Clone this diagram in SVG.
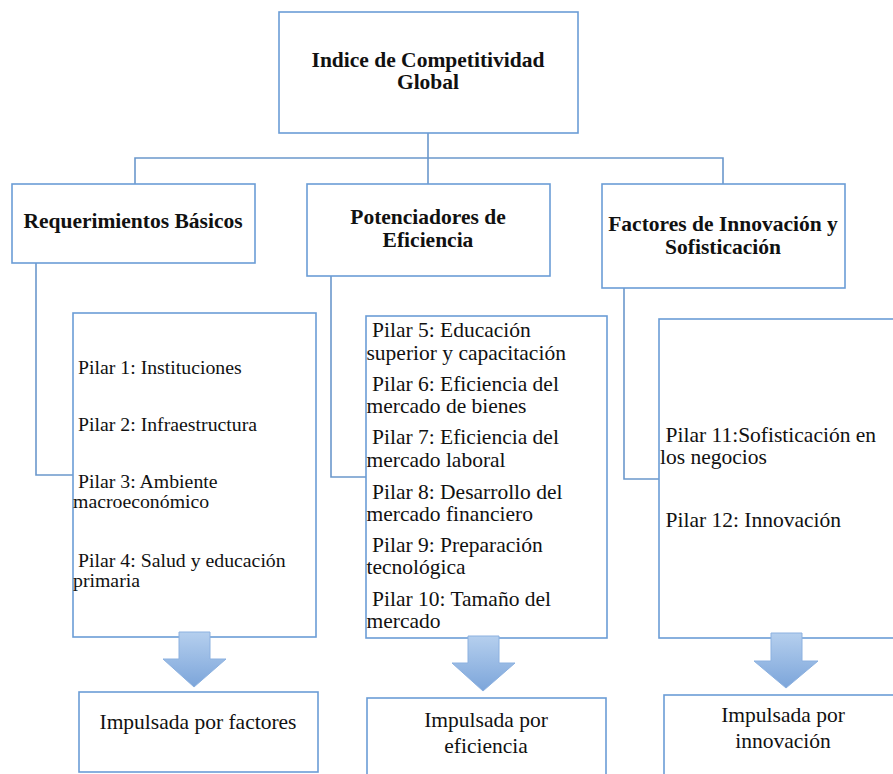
<svg xmlns="http://www.w3.org/2000/svg" width="893" height="774" viewBox="0 0 893 774">
<style>
.box{fill:#fff;stroke:#6b9dd6;stroke-width:1.6}
.con{fill:none;stroke:#6b98cc;stroke-width:1.6}
.b{font-family:"Liberation Serif",serif;font-weight:bold;font-size:21.5px;fill:#111;text-anchor:middle}
.t{font-family:"Liberation Serif",serif;font-size:21.5px;fill:#111}
.s{font-family:"Liberation Serif",serif;font-size:19.8px;fill:#111}
.c{text-anchor:middle}
.arr{fill:url(#ag);stroke:#8cb1e0;stroke-width:1}
</style>
<defs>
<linearGradient id="ag" x1="0" y1="0" x2="0" y2="1">
<stop offset="0" stop-color="#b5cfee"/>
<stop offset="1" stop-color="#7ca5da"/>
</linearGradient>
</defs>
<rect width="893" height="774" fill="#fff"/>
<g id="connectors">
<path class="con" d="M428,133 V184 M135,184 V158 H723 V184"/>
<path class="con" d="M36,263 V475 H73"/>
<path class="con" d="M331,276 V477 H366"/>
<path class="con" d="M624,288 V479 H659"/>
</g>
<g id="top">
<rect class="box" x="279" y="12" width="299" height="121"/>
<text class="b" x="428" y="67">Indice de Competitividad</text>
<text class="b" x="428" y="89">Global</text>
</g>
<g id="req">
<rect class="box" x="12" y="184" width="243" height="79"/>
<text class="b" x="133" y="228">Requerimientos Básicos</text>
</g>
<g id="pot">
<rect class="box" x="307" y="184" width="243" height="92"/>
<text class="b" x="428" y="224">Potenciadores de</text>
<text class="b" x="428" y="247">Eficiencia</text>
</g>
<g id="fac">
<rect class="box" x="602" y="184" width="243" height="104"/>
<text class="b" x="723" y="231">Factores de Innovación y</text>
<text class="b" x="723" y="254">Sofisticación</text>
</g>
<g id="pilares1">
<rect class="box" x="73" y="313" width="243" height="324"/>
<text class="s" x="78" y="374">Pilar 1: Instituciones</text>
<text class="s" x="78" y="431">Pilar 2: Infraestructura</text>
<text class="s" x="78" y="488">Pilar 3: Ambiente</text>
<text class="s" x="73" y="508">macroeconómico</text>
<text class="s" x="78" y="567">Pilar 4: Salud y educación</text>
<text class="s" x="73" y="587">primaria</text>
</g>
<g id="pilares2">
<rect class="box" x="366" y="316" width="241" height="322"/>
<text class="t" x="372" y="337">Pilar 5: Educación</text>
<text class="t" x="366.5" y="360">superior y capacitación</text>
<text class="t" x="372" y="391">Pilar 6: Eficiencia del</text>
<text class="t" x="366.5" y="413">mercado de bienes</text>
<text class="t" x="372" y="444">Pilar 7: Eficiencia del</text>
<text class="t" x="366.5" y="467">mercado laboral</text>
<text class="t" x="372" y="498.5">Pilar 8: Desarrollo del</text>
<text class="t" x="366.5" y="521">mercado financiero</text>
<text class="t" x="372" y="552">Pilar 9: Preparación</text>
<text class="t" x="366.5" y="574">tecnológica</text>
<text class="t" x="372" y="606">Pilar 10: Tamaño del</text>
<text class="t" x="366.5" y="628">mercado</text>
</g>
<g id="pilares3">
<rect class="box" x="659" y="319" width="250" height="319"/>
<text class="t" x="665.5" y="442">Pilar 11:Sofisticación en</text>
<text class="t" x="660" y="464">los negocios</text>
<text class="t" x="665.5" y="527">Pilar 12: Innovación</text>
</g>
<g id="arrows">
<polygon class="arr" points="179,632 210,632 210,659 226,659 194,687 163,659 179,659"/>
<polygon class="arr" points="468,636 499,636 499,663 515,663 483,691 452,663 468,663"/>
<polygon class="arr" points="771,633 802,633 802,661 818,661 786,688 754,661 771,661"/>
</g>
<g id="imp1">
<rect class="box" x="79" y="692" width="239" height="80"/>
<text class="t c" x="198" y="729">Impulsada por factores</text>
</g>
<g id="imp2">
<rect class="box" x="367" y="698" width="239" height="90"/>
<text class="t c" x="486" y="727">Impulsada por</text>
<text class="t c" x="486" y="753">eficiencia</text>
</g>
<g id="imp3">
<rect class="box" x="664" y="695" width="240" height="90"/>
<text class="t c" x="783" y="722">Impulsada por</text>
<text class="t c" x="783" y="748">innovación</text>
</g>
</svg>
